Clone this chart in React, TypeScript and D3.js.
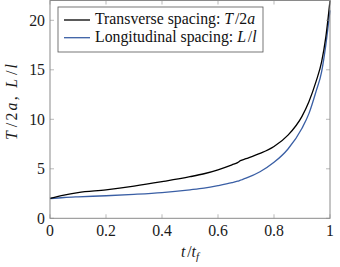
import React from "react";
import * as d3 from "d3";

// t / t_f sample points
const tValues = [0, 0.05, 0.1, 0.2, 0.3, 0.4, 0.5, 0.55, 0.6, 0.65, 0.67, 0.68, 0.7, 0.75, 0.8, 0.85, 0.9, 0.925, 0.95, 0.97, 0.985, 1];
// Transverse spacing T/2a
const transverse = [2.0, 2.35, 2.6, 2.88, 3.25, 3.7, 4.2, 4.5, 4.9, 5.4, 5.62, 5.82, 6.02, 6.55, 7.25, 8.4, 10.3, 11.8, 13.8, 15.8, 18.3, 22];
// Longitudinal spacing L/l
const longitudinal = [2.0, 2.1, 2.17, 2.28, 2.42, 2.6, 2.88, 3.05, 3.3, 3.6, 3.75, 3.85, 4.05, 4.7, 5.65, 7.0, 9.1, 10.6, 12.8, 14.8, 17.5, 21];

const xTicks = [0, 0.2, 0.4, 0.6, 0.8, 1];
const yTicks = [0, 5, 10, 15, 20];

const W = 340,
  H = 267;
const plot = { left: 50, right: 330, top: 0.5, bottom: 218.3 };
const FONT = "Liberation Serif";
const FS = 15.8;
const frameColor = "#8a8a8a";
const blue = "#3a5fa5";

// slash with a bit of math spacing round it, like TeX
const Slash = () => (
  <>
    <tspan dx={1.8}>/</tspan>
    <tspan dx={1.8}></tspan>
  </>
);

export default function App() {
  const x = d3.scaleLinear().domain([0, 1]).range([plot.left, plot.right]);
  const y = d3.scaleLinear().domain([0, 22]).range([plot.bottom, plot.top]);

  const line = d3
    .line<number>()
    .x((_, i) => x(tValues[i]))
    .y((d) => y(d))
    .curve(d3.curveMonotoneX);

  const fmt = (v: number) => (v === 0 || v === 1 ? String(v) : v.toFixed(1));

  return (
    <svg width={W} height={H} style={{ position: "absolute", left: 0, top: 0 }} fontFamily={FONT}>
      <style>{"text, tspan { font-family: 'Liberation Serif'; }"}</style>
      <rect x={0} y={0} width={W} height={H} fill="white" />
      {/* curves */}
      <path d={line(longitudinal) || ""} fill="none" stroke={blue} strokeWidth={1.3} />
      <path d={line(transverse) || ""} fill="none" stroke="black" strokeWidth={1.3} />

      {/* ticks */}
      <g stroke={frameColor} strokeWidth={0.6}>
        {xTicks.map((t) => (
          <g key={"xt" + t}>
            <line x1={x(t)} x2={x(t)} y1={plot.bottom} y2={plot.bottom - 4} />
            <line x1={x(t)} x2={x(t)} y1={plot.top} y2={plot.top + 4} />
          </g>
        ))}
        {yTicks.map((t) => (
          <g key={"yt" + t}>
            <line x1={plot.left} x2={plot.left + 4} y1={y(t)} y2={y(t)} />
            <line x1={plot.right} x2={plot.right - 4} y1={y(t)} y2={y(t)} />
          </g>
        ))}
      </g>

      {/* frame */}
      <rect
        x={plot.left}
        y={plot.top}
        width={plot.right - plot.left}
        height={plot.bottom - plot.top}
        fill="none"
        stroke={frameColor}
        strokeWidth={1}
      />

      {/* tick labels */}
      {xTicks.map((t) => (
        <text key={"xl" + t} x={x(t)} y={235.5} textAnchor="middle" fontSize={FS} fill="#1a1a1a">
          {fmt(t)}
        </text>
      ))}
      {yTicks.map((t) => (
        <text key={"yl" + t} x={45} y={y(t) + 5.2} textAnchor="end" fontSize={FS} fill="#1a1a1a">
          {t}
        </text>
      ))}

      {/* axis labels */}
      <text x={x(0.5)} y={257} textAnchor="middle" fontSize={FS} fill="#1a1a1a">
        <tspan fontStyle="italic">t</tspan>
        <Slash />
        <tspan fontStyle="italic">t</tspan>
        <tspan fontStyle="italic" fontSize={11} dy={3}>f</tspan>
      </text>
      <text
        transform={`translate(17,${102}) rotate(-90)`}
        textAnchor="middle"
        fontSize={FS}
        fill="#1a1a1a"
        textLength={76}
        lengthAdjust="spacing"
      >
        <tspan fontStyle="italic">T</tspan>
        <Slash />2<tspan fontStyle="italic">a</tspan>,{"  "}
        <tspan fontStyle="italic">L</tspan>
        <Slash />
        <tspan fontStyle="italic">l</tspan>
      </text>

      {/* legend */}
      <rect x={58} y={7} width={205} height={45} fill="white" stroke="#555" strokeWidth={0.8} />
      <line x1={64} x2={90} y1={20} y2={20} stroke="black" strokeWidth={1.3} />
      <line x1={64} x2={90} y1={37.7} y2={37.7} stroke={blue} strokeWidth={1.3} />
      <text x={95} y={24.3} fontSize={FS} fill="#111">
        Transverse spacing: <tspan fontStyle="italic">T</tspan>
        <Slash />2<tspan fontStyle="italic">a</tspan>
      </text>
      <text x={95} y={41.8} fontSize={FS} fill="#111">
        Longitudinal spacing: <tspan fontStyle="italic">L</tspan>
        <Slash />
        <tspan fontStyle="italic">l</tspan>
      </text>
    </svg>
  );
}
